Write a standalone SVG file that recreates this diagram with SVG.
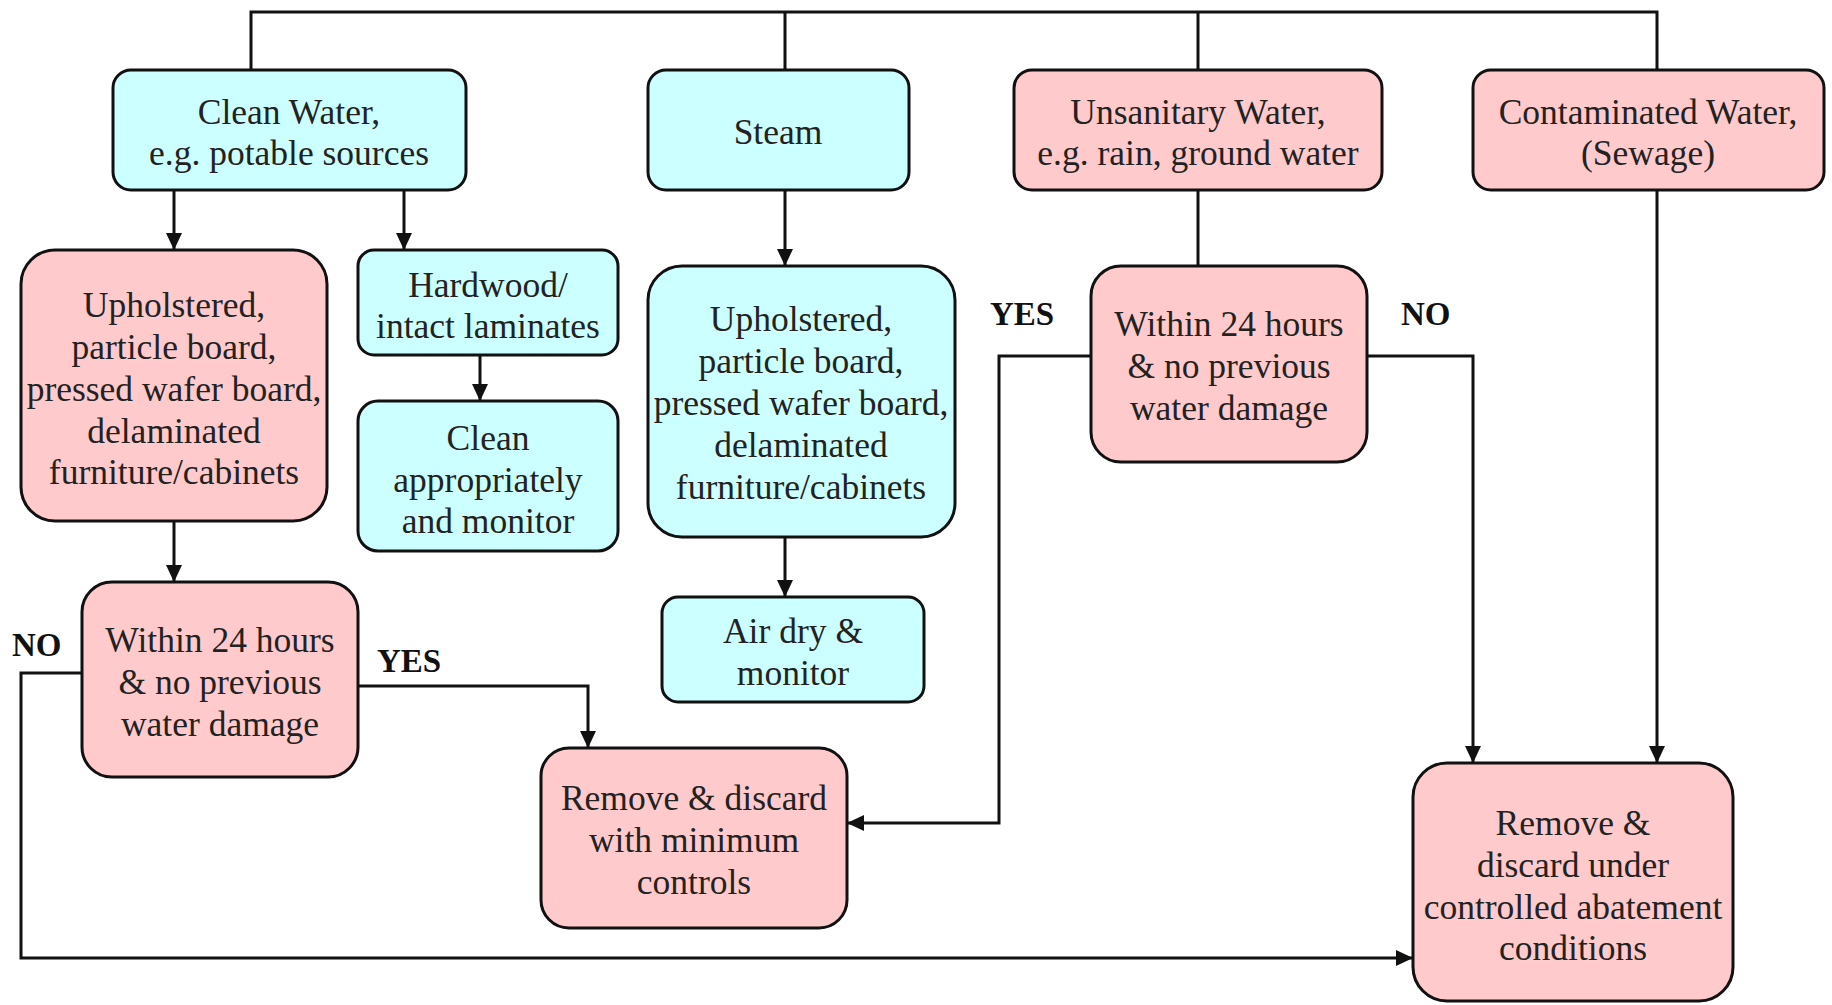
<svg xmlns="http://www.w3.org/2000/svg" width="1832" height="1005" viewBox="0 0 1832 1005">
<defs>
<style>
.c{fill:#CCFFFF;stroke:#111;stroke-width:3}
.p{fill:#FFCACC;stroke:#111;stroke-width:3}
.t{font-family:"Liberation Serif","Times New Roman",serif;font-size:35.5px;fill:#222;text-anchor:middle}
.l{font-family:"Liberation Serif","Times New Roman",serif;font-size:33px;font-weight:bold;fill:#111}
.w{fill:none;stroke:#111;stroke-width:3}
</style>
<marker id="a" markerUnits="userSpaceOnUse" markerWidth="18" markerHeight="16" refX="17" refY="8" orient="auto">
<path d="M0,0 L17,8 L0,16 z" fill="#111"/>
</marker>
</defs>
<rect width="1832" height="1005" fill="#fff"/>
<g id="connectors">
<path class="w" d="M251,70 V12 H1657 V70"/>
<path class="w" d="M785,12 V70"/>
<path class="w" d="M1198,12 V70"/>
<path class="w" d="M174,190 V250" marker-end="url(#a)"/>
<path class="w" d="M404,190 V250" marker-end="url(#a)"/>
<path class="w" d="M480,355 V401" marker-end="url(#a)"/>
<path class="w" d="M174,521 V582" marker-end="url(#a)"/>
<path class="w" d="M785,190 V266" marker-end="url(#a)"/>
<path class="w" d="M785,537 V597" marker-end="url(#a)"/>
<path class="w" d="M1198,190 V266"/>
<path class="w" d="M1091,356 H999 V823 H847" marker-end="url(#a)"/>
<path class="w" d="M1367,356 H1473 V763" marker-end="url(#a)"/>
<path class="w" d="M1657,190 V763" marker-end="url(#a)"/>
<path class="w" d="M358,686 H588 V748" marker-end="url(#a)"/>
<path class="w" d="M82,673 H21 V958 H1413" marker-end="url(#a)"/>
<text class="l" x="12" y="656">NO</text>
<text class="l" x="377" y="672">YES</text>
<text class="l" x="990" y="325">YES</text>
<text class="l" x="1401" y="325">NO</text>
</g>
<g id="clean-water">
<rect class="c" x="113" y="70" width="353" height="120" rx="18"/>
<text class="t" x="289" y="124">Clean Water,</text>
<text class="t" x="289" y="165">e.g. potable sources</text>
</g>
<g id="steam">
<rect class="c" x="648" y="70" width="261" height="120" rx="18"/>
<text class="t" x="778" y="144">Steam</text>
</g>
<g id="unsanitary-water">
<rect class="p" x="1014" y="70" width="368" height="120" rx="18"/>
<text class="t" x="1198" y="124">Unsanitary Water,</text>
<text class="t" x="1198" y="165">e.g. rain, ground water</text>
</g>
<g id="contaminated-water">
<rect class="p" x="1473" y="70" width="351" height="120" rx="18"/>
<text class="t" x="1648" y="124">Contaminated Water,</text>
<text class="t" x="1648" y="165">(Sewage)</text>
</g>
<g id="upholstered-clean">
<rect class="p" x="21" y="250" width="306" height="271" rx="34"/>
<text class="t" x="174" y="317">Upholstered,</text>
<text class="t" x="174" y="359">particle board,</text>
<text class="t" x="174" y="401">pressed wafer board,</text>
<text class="t" x="174" y="443">delaminated</text>
<text class="t" x="174" y="484">furniture/cabinets</text>
</g>
<g id="hardwood">
<rect class="c" x="358" y="250" width="260" height="105" rx="16"/>
<text class="t" x="488" y="297">Hardwood/</text>
<text class="t" x="488" y="338">intact laminates</text>
</g>
<g id="clean-appropriately">
<rect class="c" x="358" y="401" width="260" height="150" rx="20"/>
<text class="t" x="488" y="450">Clean</text>
<text class="t" x="488" y="492">appropriately</text>
<text class="t" x="488" y="533">and monitor</text>
</g>
<g id="upholstered-steam">
<rect class="c" x="648" y="266" width="307" height="271" rx="34"/>
<text class="t" x="801" y="331">Upholstered,</text>
<text class="t" x="801" y="373">particle board,</text>
<text class="t" x="801" y="415">pressed wafer board,</text>
<text class="t" x="801" y="457">delaminated</text>
<text class="t" x="801" y="499">furniture/cabinets</text>
</g>
<g id="air-dry">
<rect class="c" x="662" y="597" width="262" height="105" rx="16"/>
<text class="t" x="793" y="643">Air dry &amp;</text>
<text class="t" x="793" y="685">monitor</text>
</g>
<g id="within-24-right">
<rect class="p" x="1091" y="266" width="276" height="196" rx="30"/>
<text class="t" x="1229" y="336">Within 24 hours</text>
<text class="t" x="1229" y="378">&amp; no previous</text>
<text class="t" x="1229" y="420">water damage</text>
</g>
<g id="within-24-left">
<rect class="p" x="82" y="582" width="276" height="195" rx="30"/>
<text class="t" x="220" y="652">Within 24 hours</text>
<text class="t" x="220" y="694">&amp; no previous</text>
<text class="t" x="220" y="736">water damage</text>
</g>
<g id="remove-minimum">
<rect class="p" x="541" y="748" width="306" height="180" rx="28"/>
<text class="t" x="694" y="810">Remove &amp; discard</text>
<text class="t" x="694" y="852">with minimum</text>
<text class="t" x="694" y="894">controls</text>
</g>
<g id="remove-controlled">
<rect class="p" x="1413" y="763" width="320" height="238" rx="34"/>
<text class="t" x="1573" y="835">Remove &amp;</text>
<text class="t" x="1573" y="877">discard under</text>
<text class="t" x="1573" y="919">controlled abatement</text>
<text class="t" x="1573" y="960">conditions</text>
</g>
</svg>
